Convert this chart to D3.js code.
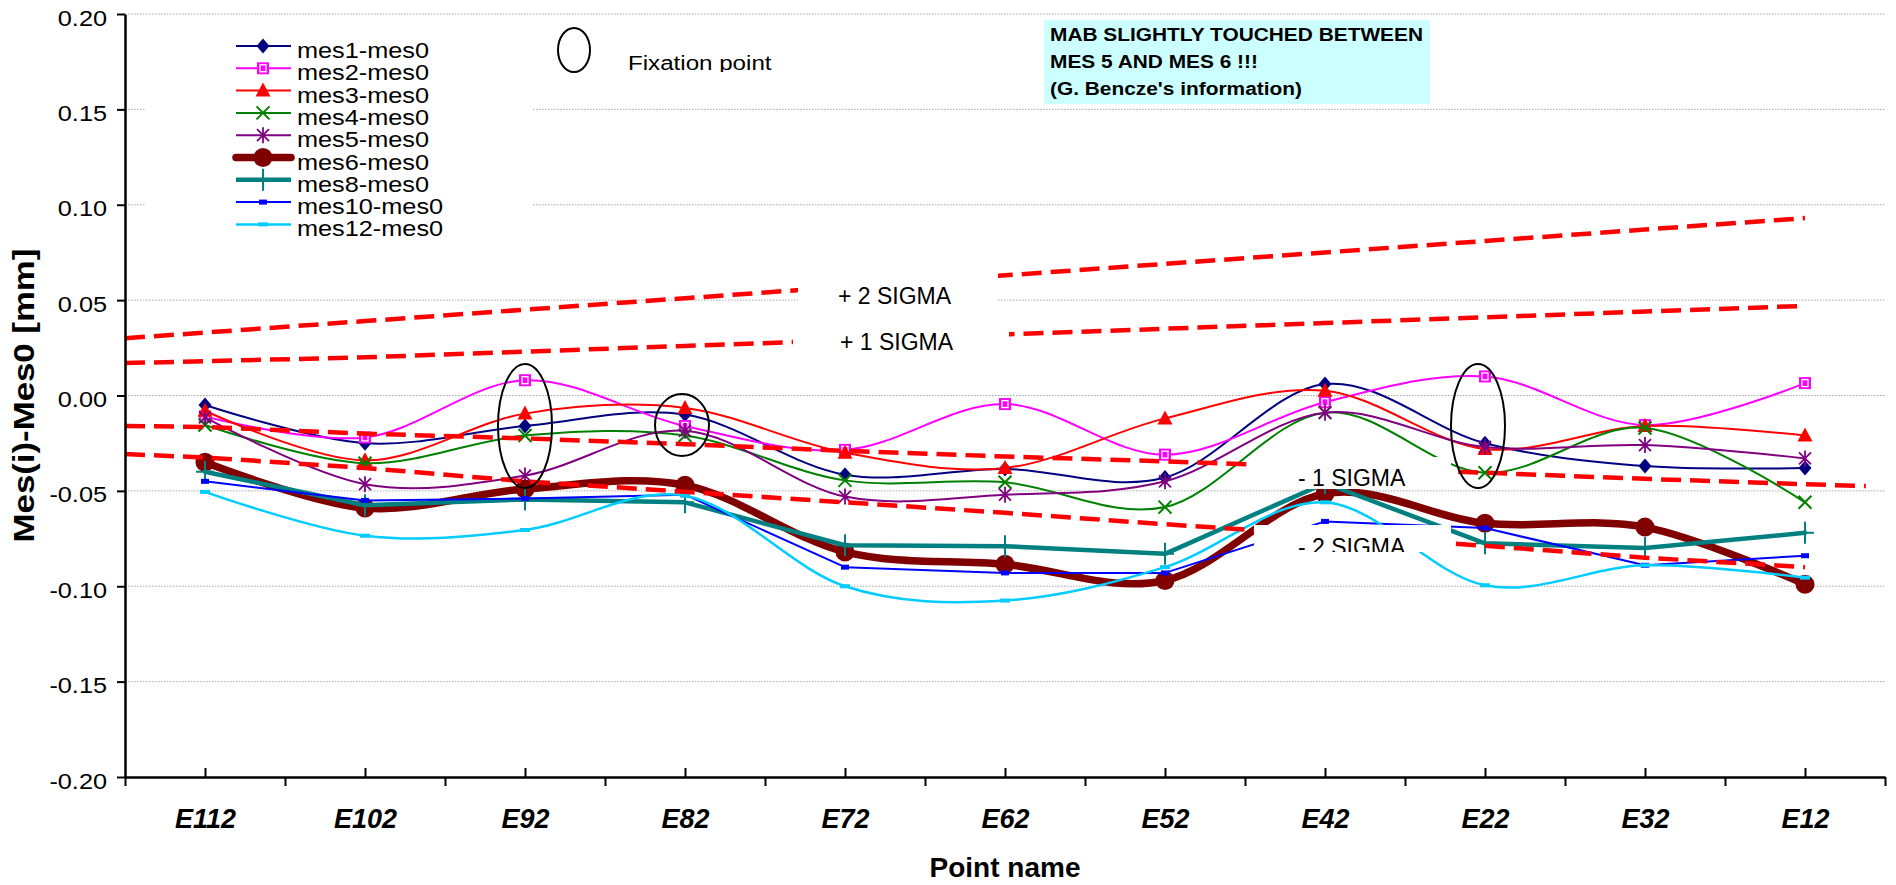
<!DOCTYPE html>
<html><head><meta charset="utf-8">
<script src="https://cdn.jsdelivr.net/npm/d3@7"></script>
<style>
body{margin:0;background:#fff;}
svg{display:block;font-family:"Liberation Sans",Arial,sans-serif;}
</style>
</head><body>
<svg id="c" width="1896" height="885"></svg>
<script>
// ---------------- DATA ----------------
const categories = ["E112","E102","E92","E82","E72","E62","E52","E42","E22","E32","E12"];
const seriesNames = ["mes1-mes0","mes2-mes0","mes3-mes0","mes4-mes0","mes5-mes0","mes6-mes0","mes8-mes0","mes10-mes0","mes12-mes0"];
const mes1  = [-0.005,-0.025,-0.016,-0.010,-0.0415,-0.0385,-0.043,0.006,-0.025,-0.037,-0.038];
const mes2  = [-0.011,-0.022,0.008,-0.016,-0.0285,-0.0045,-0.031,-0.0035,0.010,-0.0155,0.0065];
const mes3  = [-0.008,-0.034,-0.0095,-0.0065,-0.030,-0.038,-0.012,0.0025,-0.028,-0.016,-0.021];
const mes4  = [-0.0155,-0.0355,-0.021,-0.021,-0.0445,-0.0455,-0.0585,-0.009,-0.0405,-0.017,-0.056];
const mes5  = [-0.0115,-0.0465,-0.042,-0.0185,-0.053,-0.052,-0.045,-0.009,-0.027,-0.026,-0.033];
const mes6  = [-0.035,-0.059,-0.049,-0.047,-0.082,-0.0885,-0.097,-0.0515,-0.067,-0.069,-0.099];
const mes8  = [-0.040,-0.0575,-0.0545,-0.056,-0.0785,-0.079,-0.083,-0.046,-0.0775,-0.080,-0.072];
const mes10 = [-0.045,-0.055,-0.054,-0.052,-0.090,-0.093,-0.093,-0.066,-0.0695,-0.089,-0.084];
const mes12 = [-0.0505,-0.0735,-0.0705,-0.0525,-0.100,-0.1075,-0.090,-0.056,-0.0995,-0.089,-0.0955];

// sigma limit lines: positions in category-index units (-0.5 = left edge of the plot)
const sigmaPos    = [-0.5,0,1,2,3,4,5,6,7,8,9,10,10.38];
const sigmaPlus2  = [0.030,0.033,0.039,0.045,0.051,0.057,0.063,0.069,0.075,0.081,0.087,0.093,null];
const sigmaPlus1  = [0.017,0.018,0.020,0.023,0.026,0.029,0.032,0.035,0.038,0.041,0.044,0.047,null];
const sigmaMinus1 = [-0.016,-0.0165,-0.020,-0.0225,-0.0255,-0.029,-0.032,-0.0345,-0.0375,-0.0405,-0.0437,-0.0465,-0.0475];
const sigmaMinus2 = [-0.0307,-0.0325,-0.038,-0.045,-0.0505,-0.056,-0.0615,-0.0675,-0.073,-0.0788,-0.085,-0.090,null];
const sigmaLabels = ["+ 2 SIGMA","+ 1 SIGMA","- 1 SIGMA","- 2 SIGMA"];

const yTicks = [0.20,0.15,0.10,0.05,0.00,-0.05,-0.10,-0.15,-0.20];
const yTickLabels = ["0.20","0.15","0.10","0.05","0.00","-0.05","-0.10","-0.15","-0.20"];
const fixationCats = ["E92","E82","E22"];
const yTitle = "Mes(i)-Mes0 [mm]";
const xTitle = "Point name";
const fixationLabel = "Fixation point";
const noteLines = ["MAB SLIGHTLY TOUCHED BETWEEN","MES 5 AND MES 6 !!!","(G. Bencze's information)"];

// ---------------- STYLES ----------------
const seriesValues = [mes1,mes2,mes3,mes4,mes5,mes6,mes8,mes10,mes12];
const seriesStyle = [
  {color:"#000080",width:2,  marker:"diamond", smooth:true},
  {color:"#FF00FF",width:2,  marker:"square",  smooth:true},
  {color:"#FF0000",width:2,  marker:"triangle",smooth:true},
  {color:"#008000",width:2,  marker:"x",       smooth:true},
  {color:"#800080",width:2,  marker:"star",    smooth:true},
  {color:"#800000",width:7.5,marker:"circle",  smooth:true},
  {color:"#008080",width:4.5,marker:"plus",    smooth:false},
  {color:"#0000FF",width:2,  marker:"dash",    smooth:false},
  {color:"#00CCFF",width:2.5,marker:"dash2",   smooth:true}
];

const plot = {left:125,right:1885,top:14,bottom:777};
const svg = d3.select("#c");
const defs = svg.append("defs");

const x  = d3.scalePoint().domain(categories).range([plot.left,plot.right]).padding(0.5);
const xi = d3.scaleLinear().domain([-0.5,categories.length-0.5]).range([plot.left,plot.right]);
const y  = d3.scaleLinear().domain([-0.2,0.2]).range([plot.bottom,plot.top]);

function stretchText(g, px, py, str, opt){
  return g.append("text")
    .attr("transform",`translate(${px},${py}) scale(${opt.sx||1},1)`)
    .attr("font-size",opt.size)
    .attr("font-weight",opt.weight||"normal")
    .attr("font-style",opt.style||"normal")
    .attr("text-anchor",opt.anchor||"start")
    .attr("fill","#000")
    .text(str);
}

// gridlines
svg.append("g").selectAll("line").data(yTicks.filter(d=>d>-0.2)).join("line")
  .attr("x1",plot.left).attr("x2",plot.right)
  .attr("y1",d=>y(d)).attr("y2",d=>y(d))
  .attr("stroke","#a8a8a8").attr("stroke-width",1).attr("stroke-dasharray","1.5,1.5");

// markers
function marker(g,type,c){
  switch(type){
    case "diamond": g.append("path").attr("d","M0,-7.5L6.5,0L0,7.5L-6.5,0Z").attr("fill",c); break;
    case "square":
      g.append("rect").attr("x",-6).attr("y",-6).attr("width",12).attr("height",12).attr("fill",c);
      g.append("rect").attr("x",-3).attr("y",-3.5).attr("width",6).attr("height",7).attr("fill","none").attr("stroke","#fff").attr("stroke-width",1.3); break;
    case "triangle": g.append("path").attr("d","M0,-8L7.5,6L-7.5,6Z").attr("fill",c); break;
    case "x": g.append("path").attr("d","M-6.5,-6.5L6.5,6.5M-6.5,6.5L6.5,-6.5").attr("stroke",c).attr("stroke-width",2).attr("fill","none"); break;
    case "star": g.append("path").attr("d","M-6,-6L6,6M-6,6L6,-6M0,-8L0,8").attr("stroke",c).attr("stroke-width",1.8).attr("fill","none"); break;
    case "circle": g.append("circle").attr("r",9.5).attr("fill",c); break;
    case "plus": g.append("path").attr("d","M0,-11V11M-9,0H9").attr("stroke",c).attr("stroke-width",2).attr("fill","none"); break;
    case "dash": g.append("rect").attr("x",-4).attr("y",-2.5).attr("width",8).attr("height",5).attr("fill",c); break;
    case "dash2": g.append("rect").attr("x",-5).attr("y",-2).attr("width",10).attr("height",4).attr("fill",c); break;
  }
}

// series
const gSeries = svg.append("g");
seriesValues.forEach((vals,si)=>{
  const st = seriesStyle[si];
  const line = d3.line()
    .x((d,i)=>x(categories[i])).y(d=>y(d))
    .curve(st.smooth ? d3.curveCardinal.tension(0) : d3.curveLinear);
  gSeries.append("path").attr("d",line(vals))
    .attr("fill","none").attr("stroke",st.color).attr("stroke-width",st.width)
    .attr("stroke-linejoin","round").attr("stroke-linecap","round");
  vals.forEach((v,i)=>{
    const mg = gSeries.append("g").attr("transform",`translate(${x(categories[i])},${y(v)})`);
    marker(mg,st.marker,st.color);
  });
});

// sigma lines
const sigmaSets = [sigmaPlus2,sigmaPlus1,sigmaMinus1,sigmaMinus2];
const sline = d3.line().defined(d=>d!=null).x((d,i)=>xi(sigmaPos[i])).y(d=>y(d));
svg.append("g").selectAll("path").data(sigmaSets).join("path")
  .attr("d",d=>sline(d)).attr("fill","none").attr("stroke","#FF0000")
  .attr("stroke-width",4.5).attr("stroke-dasharray","20,9");

// sigma label boxes (white, occluding)
const sigmaBoxes = [
  {x:798,y:272,w:200,h:40,tx:838,ty:304},
  {x:793,y:325,w:216,h:33,tx:840,ty:350},
  {x:1254,y:457,w:197,h:32,tx:1298,ty:486},
  {x:1254,y:525,w:197,h:27,tx:1298,ty:555}
];
sigmaBoxes.forEach((b,i)=>{
  svg.append("rect").attr("x",b.x).attr("y",b.y).attr("width",b.w).attr("height",b.h).attr("fill","#fff");
  const cid = "sclip"+i;
  defs.append("clipPath").attr("id",cid).append("rect").attr("x",b.x).attr("y",b.y).attr("width",b.w).attr("height",b.h);
  const g = svg.append("g").attr("clip-path",`url(#${cid})`);
  stretchText(g,b.tx,b.ty,sigmaLabels[i],{size:23});
});

// fixation ellipses on chart
const fixShapes = {"E92":{dx:0,cy:426,rx:27,ry:62},"E82":{dx:-3,cy:425,rx:27,ry:31},"E22":{dx:-7,cy:426,rx:27,ry:62}};
svg.append("g").selectAll("ellipse").data(fixationCats).join("ellipse")
  .attr("cx",d=>x(d)+fixShapes[d].dx).attr("cy",d=>fixShapes[d].cy)
  .attr("rx",d=>fixShapes[d].rx).attr("ry",d=>fixShapes[d].ry)
  .attr("fill","none").attr("stroke","#000").attr("stroke-width",2);

// axes
const yAxis = d3.axisLeft(y).tickValues(yTicks).tickFormat((d,i)=>yTickLabels[i]).tickSize(8).tickSizeOuter(0);
const gy = svg.append("g").attr("transform",`translate(${plot.left},0)`).call(yAxis);
gy.select(".domain").attr("stroke","#000").attr("stroke-width",2.5);
gy.selectAll(".tick line").attr("stroke","#000").attr("stroke-width",2);
gy.selectAll(".tick text")
  .attr("font-family","'Liberation Sans',Arial,sans-serif").attr("font-size",22).attr("fill","#000")
  .attr("x",-18/1.15).attr("dy",null).attr("y",11)
  .attr("transform","scale(1.15,1)");

const edgeAxis = d3.axisBottom(xi).tickValues(d3.range(-0.5,categories.length,1)).tickSize(9).tickSizeOuter(0).tickFormat("");
const gxe = svg.append("g").attr("transform",`translate(0,${plot.bottom})`).call(edgeAxis);
gxe.select(".domain").attr("stroke","#000").attr("stroke-width",2.5);
gxe.selectAll(".tick line").attr("stroke","#000").attr("stroke-width",2);

const xAxis = d3.axisBottom(x).tickSize(-9).tickSizeOuter(0).tickPadding(0);
const gx = svg.append("g").attr("transform",`translate(0,${plot.bottom})`).call(xAxis);
gx.select(".domain").remove();
gx.selectAll(".tick line").attr("stroke","#000").attr("stroke-width",2);
gx.selectAll(".tick text")
  .attr("font-family","'Liberation Sans',Arial,sans-serif").attr("font-size",27)
  .attr("font-weight","bold").attr("font-style","italic").attr("fill","#000")
  .attr("y",51).attr("dy",null);

// axis titles
stretchText(svg,(plot.left+plot.right)/2,877,xTitle,{size:28,weight:"bold",anchor:"middle"});
svg.append("text").attr("transform",`translate(34,${(plot.top+plot.bottom)/2}) rotate(-90) scale(1.2,1)`)
  .attr("font-size",29).attr("font-weight","bold").attr("text-anchor","middle").text(yTitle);

// legend
const gl = svg.append("g");
gl.append("rect").attr("x",146).attr("y",28).attr("width",386).attr("height",212).attr("fill","#fff");
seriesNames.forEach((name,i)=>{
  const st = seriesStyle[i];
  const ry = 46 + i*22.3;
  gl.append("line").attr("x1",236).attr("x2",291).attr("y1",ry).attr("y2",ry)
    .attr("stroke",st.color).attr("stroke-width",st.width).attr("stroke-linecap",st.width>5?"round":"butt");
  marker(gl.append("g").attr("transform",`translate(263,${ry})`),st.marker,st.color);
  stretchText(gl,297,ry+12,name,{size:22,sx:1.15});
});

// fixation point legend
svg.append("rect").attr("x",610).attr("y",36).attr("width",180).attr("height",36).attr("fill","#fff");
svg.append("ellipse").attr("cx",574).attr("cy",50).attr("rx",16).attr("ry",22)
  .attr("fill","none").attr("stroke","#000").attr("stroke-width",2);
defs.append("clipPath").attr("id","fclip").append("rect").attr("x",610).attr("y",36).attr("width",180).attr("height",36);
stretchText(svg.append("g").attr("clip-path","url(#fclip)"),628,70,fixationLabel,{size:21,sx:1.15});

// note box
svg.append("rect").attr("x",1044).attr("y",20).attr("width",386).attr("height",84).attr("fill","#CCFFFF");
noteLines.forEach((t,i)=>{
  stretchText(svg,1050,41+i*27,t,{size:18,weight:"bold",sx:1.16});
});
</script>
</body></html>
